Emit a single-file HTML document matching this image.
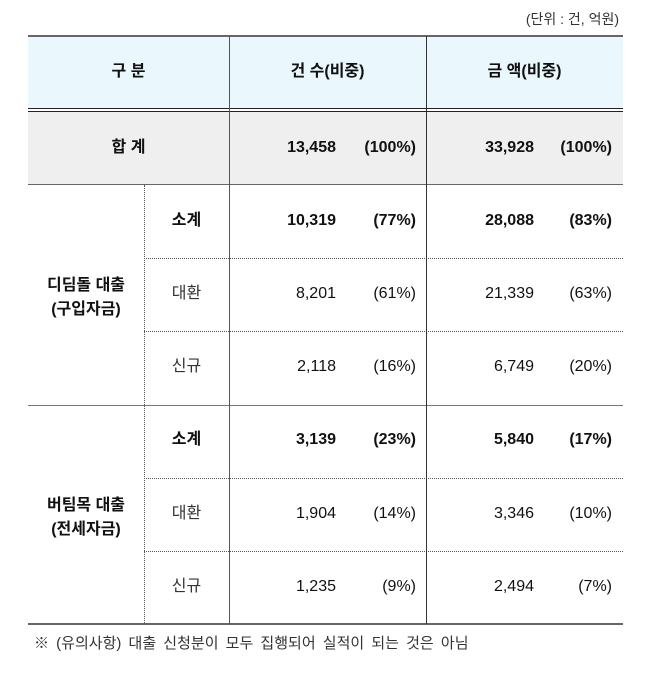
<!DOCTYPE html>
<html><head><meta charset="utf-8"><style>
body{margin:0;width:647px;height:698px;background:#fff;position:relative;font-family:"Liberation Sans","Malgun Gothic","Noto Sans CJK KR",sans-serif;color:#111;overflow:hidden}
.a{position:absolute}
.h{position:absolute;left:28px;width:595px}
.t{position:absolute;font-size:16px;line-height:20px;white-space:nowrap}
.b{font-weight:bold}
.r{text-align:right}
.c{text-align:center}
</style></head><body>
<div class="t" style="right:28px;top:9px;font-size:14px;color:#333">(단위 : 건, 억원)</div>
<div class="h" style="top:36px;height:73px;background:#eaf7fd"></div>
<div class="h" style="top:112px;height:72px;background:#efefef"></div>
<div class="h" style="top:35px;border-top:2px solid #666"></div>
<div class="h" style="top:108px;border-top:1.5px solid #222"></div>
<div class="h" style="top:111px;border-top:1.5px solid #222"></div>
<div class="h" style="top:184px;border-top:1.5px solid #666"></div>
<div class="h" style="top:405px;border-top:1.5px solid #777"></div>
<div class="h" style="top:623px;border-top:2px solid #666"></div>
<div class="a" style="left:144px;width:479px;top:258px;border-top:1px dotted #555"></div>
<div class="a" style="left:144px;width:479px;top:331px;border-top:1px dotted #555"></div>
<div class="a" style="left:144px;width:479px;top:478px;border-top:1px dotted #555"></div>
<div class="a" style="left:144px;width:479px;top:551px;border-top:1px dotted #555"></div>
<div class="a" style="left:144px;top:185px;height:438px;border-left:1px dotted #555"></div>
<div class="a" style="left:229px;top:36px;height:588px;border-left:1.5px solid #555"></div>
<div class="a" style="left:426px;top:36px;height:588px;border-left:1.5px solid #333"></div>

<div class="t b c" style="left:28px;width:201px;top:62px">구 분</div>
<div class="t b c" style="left:229px;width:197px;top:62px">건 수(비중)</div>
<div class="t b c" style="left:426px;width:197px;top:62px">금 액(비중)</div>

<div class="t b c" style="left:28px;width:201px;top:138px">합 계</div>
<div class="t b c" style="left:28px;width:116px;top:274px;line-height:24px">디딤돌 대출<br>(구입자금)</div>
<div class="t b c" style="left:28px;width:116px;top:494px;line-height:24px">버팀목 대출<br>(전세자금)</div>

<div id="rows"></div>
<div class="t" style="left:34px;top:634px;font-size:15px;color:#333;word-spacing:3px">※ (유의사항) 대출 신청분이 모두 집행되어 실적이 되는 것은 아님</div>
<script>
const labels=["합계","소계","대환","신규","소계","대환","신규"];
const counts=["13,458","10,319","8,201","2,118","3,139","1,904","1,235"];
const countPct=["(100%)","(77%)","(61%)","(16%)","(23%)","(14%)","(9%)"];
const amounts=["33,928","28,088","21,339","6,749","5,840","3,346","2,494"];
const amountPct=["(100%)","(83%)","(63%)","(20%)","(17%)","(10%)","(7%)"];
const tops=[138,211,284,357,430,504,577];
const bold=[true,true,false,false,true,false,false];
const box=document.getElementById('rows');
function add(txt,style,b,name){const d=document.createElement('div');d.className='t'+(b?' b':'');d.style.cssText=style;d.textContent=txt;


box.appendChild(d);}
for(let i=0;i<7;i++){
  const y=tops[i];
  if(i>0) add(labels[i],`left:144px;width:85px;top:${y}px;text-align:center;${bold[i]?'':'color:#333'}`,bold[i],'row-label');
  add(counts[i],`right:${647-336}px;top:${y}px;text-align:right`,bold[i],'count-value');
  add(countPct[i],`right:${647-416}px;top:${y}px;text-align:right`,bold[i],'count-pct');
  add(amounts[i],`right:${647-534}px;top:${y}px;text-align:right`,bold[i],'amount-value');
  add(amountPct[i],`right:${647-612}px;top:${y}px;text-align:right`,bold[i],'amount-pct');
}
</script>
</body></html>
